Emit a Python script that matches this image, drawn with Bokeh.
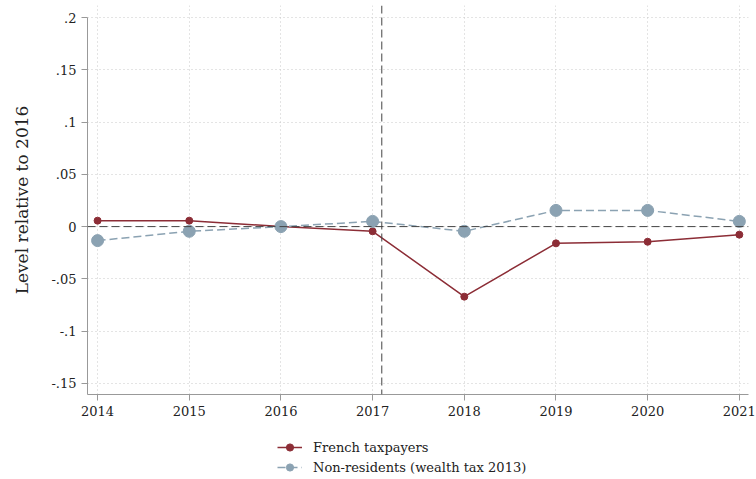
from bokeh.plotting import figure
from bokeh.models import Legend, LegendItem, Span, FixedTicker, Range1d
from bokeh.layouts import column
from bokeh.embed import file_html
from bokeh.resources import INLINE

years = [2014, 2015, 2016, 2017, 2018, 2019, 2020, 2021]
french = [0.0057, 0.0057, 0.0, -0.0045, -0.067, -0.016, -0.0145, -0.0077]
nonres = [-0.0134, -0.0045, 0.0, 0.0050, -0.0045, 0.0155, 0.0155, 0.0050]
y_ticks = [-0.15, -0.1, -0.05, 0.0, 0.05, 0.1, 0.15, 0.2]
y_tick_labels = ["-.15", "-.1", "-.05", "0", ".05", ".1", ".15", ".2"]
reform_x = 2017.1
series_names = ["French taxpayers", "Non-residents (wealth tax 2013)"]

FONT = "DejaVu Serif"
RED = "#8c2d36"
BLUE = "#8ba2b2"

p = figure(frame_width=661, frame_height=389, output_backend="svg", toolbar_location=None,
           x_range=Range1d(2013.89, 2021.1), y_range=Range1d(-0.1606, 0.2115),
           min_border_left=87, min_border_right=8, min_border_top=5, min_border_bottom=0)
p.outline_line_color = None
p.background_fill_color = "white"

for g in (p.xgrid, p.ygrid):
    g.grid_line_color = "#c8c8c8"
    g.grid_line_dash = "1 3"
    g.grid_line_width = 1
p.xaxis.ticker = FixedTicker(ticks=years)
p.yaxis.ticker = FixedTicker(ticks=y_ticks)
p.yaxis.major_label_overrides = {t: l for t, l in zip(y_ticks, y_tick_labels)}
p.xaxis.major_label_overrides = {y: str(y) for y in years}
p.yaxis.bounds = (-0.1606, 0.2)

for ax in (p.xaxis, p.yaxis):
    ax.axis_line_color = "#999999"
    ax.major_tick_line_color = "#999999"
    ax.major_tick_out = 6
    ax.major_tick_in = 0
    ax.minor_tick_line_color = None
    ax.major_label_text_font = FONT
    ax.major_label_text_font_size = "13px"
    ax.major_label_text_color = "#222222"
p.yaxis.major_label_orientation = 0
p.yaxis.axis_label = "Level relative to 2016"
p.yaxis.axis_label_text_font = FONT
p.yaxis.axis_label_text_font_size = "17px"
p.yaxis.axis_label_text_font_style = "normal"
p.yaxis.axis_label_text_color = "#222222"
p.yaxis.axis_label_standoff = 16

p.add_layout(Span(location=0, dimension="width", line_color="#444444",
                  line_dash="8 4", line_width=1))
p.add_layout(Span(location=reform_x, dimension="height", line_color="#444444",
                  line_dash="8 4", line_width=1))

p.line(years, french, line_color=RED, line_width=1.5)
p.scatter(years, french, size=7, fill_color=RED, line_color=RED)
p.line(years, nonres, line_color=BLUE, line_width=1.5, line_dash="8 4")
p.scatter(years, nonres, size=12, fill_color=BLUE, line_color=BLUE)

# legend strip below the chart (its renderers sit outside its visible range)
q = figure(width=756, height=58, output_backend="svg", toolbar_location=None,
           x_axis_type=None, y_axis_type=None, x_range=Range1d(0, 1), y_range=Range1d(0, 1),
           min_border=0)
q.outline_line_color = None
q.grid.visible = False
ql1 = q.line(years, french, line_color=RED, line_width=1.5)
qs1 = q.scatter(years, french, size=7, fill_color=RED, line_color=RED)
ql2 = q.line(years, nonres, line_color=BLUE, line_width=1.5, line_dash="8 4")
qs2 = q.scatter(years, nonres, size=12, fill_color=BLUE, line_color=BLUE)

legend = Legend(items=[LegendItem(label=series_names[0], renderers=[ql1, qs1]),
                       LegendItem(label=series_names[1], renderers=[ql2, qs2])],
                orientation="vertical", location=(190, 0))
legend.border_line_color = None
legend.background_fill_alpha = 0
legend.label_text_font = FONT
legend.label_text_font_size = "13px"
legend.label_text_color = "#222222"
legend.glyph_width = 25
legend.glyph_height = 18
legend.label_height = 18
legend.spacing = 2
legend.label_standoff = 11
legend.padding = 0
legend.margin = 0
q.add_layout(legend)

open("out.html", "w").write(file_html(column(p, q, spacing=0), INLINE))
